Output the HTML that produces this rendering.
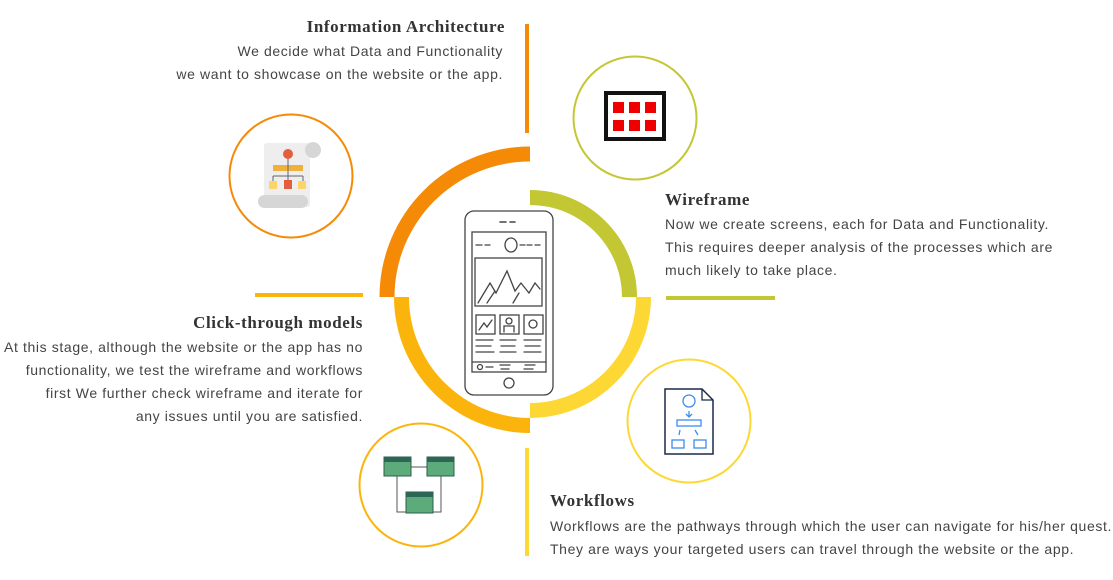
<!DOCTYPE html>
<html><head><meta charset="utf-8"><style>
body{margin:0;width:1113px;height:580px;background:#fff;position:relative;overflow:hidden;font-family:"Liberation Sans",sans-serif;}
.t{position:absolute;font-family:"Liberation Serif",serif;font-weight:bold;font-size:17px;color:#333;white-space:nowrap;letter-spacing:0.6px}
.b{position:absolute;font-size:14px;color:#444;line-height:23px;white-space:nowrap;letter-spacing:0.62px}
.r{text-align:right}
svg{position:absolute;left:0;top:0}
</style></head><body>
<svg width="1113" height="580" viewBox="0 0 1113 580">
<rect x="525" y="24" width="4" height="109" fill="#f58a07"/>
<rect x="666" y="296" width="109" height="4" fill="#c3c733"/>
<rect x="255" y="293" width="108" height="4" fill="#fbb40c"/>
<rect x="525" y="448" width="4" height="108" fill="#fdd835"/>
<path d="M379.5 297 A150.5 150.5 0 0 1 530 146.5 L530 161.5 A135.5 135.5 0 0 0 394.5 297 Z" fill="#f58a07"/>
<path d="M530 190 A107 107 0 0 1 637 297 L622 297 A92 92 0 0 0 530 205 Z" fill="#c3c733"/>
<path d="M651 297 A121 121 0 0 1 530 418 L530 403 A106 106 0 0 0 636 297 Z" fill="#fdd835"/>
<path d="M530 433 A136 136 0 0 1 394 297 L409 297 A121 121 0 0 0 530 418 Z" fill="#fbb40c"/>
<circle cx="291" cy="176" r="61.5" fill="none" stroke="#f58a07" stroke-width="2"/>
<circle cx="635" cy="118" r="61.5" fill="none" stroke="#c3c733" stroke-width="2"/>
<circle cx="689" cy="421" r="61.5" fill="none" stroke="#fdd835" stroke-width="2"/>
<circle cx="421" cy="485" r="61.5" fill="none" stroke="#fbb40c" stroke-width="2"/>
<rect x="264" y="143" width="46" height="64" rx="3" fill="#eee"/>
<circle cx="313" cy="150" r="8" fill="#d6d6d6"/>
<rect x="258" y="195" width="50" height="13" rx="6.5" fill="#d6d6d6"/>
<circle cx="288" cy="154" r="5" fill="#e35d3e"/>
<rect x="273" y="165" width="30" height="6" fill="#efb13c"/>
<path d="M288 159v24M273 176h30M273 176v5M303 176v5" stroke="#666" stroke-width="1" fill="none"/>
<rect x="269" y="181" width="8" height="8" fill="#fbd46a"/>
<rect x="284" y="180" width="8" height="9" fill="#e35d3e"/>
<rect x="298" y="181" width="8" height="8" fill="#fbd46a"/>
<rect x="606" y="93" width="58" height="46" fill="#fff" stroke="#111" stroke-width="4"/>
<g fill="#e00">
<rect x="613" y="102" width="11" height="11"/><rect x="629" y="102" width="11" height="11"/><rect x="645" y="102" width="11" height="11"/>
<rect x="613" y="120" width="11" height="11"/><rect x="629" y="120" width="11" height="11"/><rect x="645" y="120" width="11" height="11"/>
</g>
<path d="M665 389h37l11 11v54h-48z" fill="#fff" stroke="#1a2a4a" stroke-width="1.5"/>
<path d="M702 389v11h11" fill="none" stroke="#1a2a4a" stroke-width="1.3"/>
<g fill="none" stroke="#3b8cf0" stroke-width="1.3">
<circle cx="689" cy="401" r="6"/>
<rect x="677" y="420" width="24" height="6"/>
<rect x="672" y="440" width="12" height="8"/><rect x="694" y="440" width="12" height="8"/>
<path d="M689 411v6M686 414l3 3 3-3M680 430l-1 5M695 430l3 5"/>
</g>
<g stroke="#555" stroke-width="1" fill="none"><path d="M411 467h16M397 476v36h9M441 476v36h-8"/></g>
<rect x="384" y="457" width="27" height="19" fill="#5dab7a" stroke="#2d5f4a"/><rect x="384" y="457" width="27" height="5" fill="#2b6656"/>
<rect x="427" y="457" width="27" height="19" fill="#5dab7a" stroke="#2d5f4a"/><rect x="427" y="457" width="27" height="5" fill="#2b6656"/>
<rect x="406" y="492" width="27" height="21" fill="#5dab7a" stroke="#2d5f4a"/><rect x="406" y="492" width="27" height="5" fill="#2b6656"/>
<g fill="none" stroke="#444" stroke-width="1.3" stroke-linecap="round">
<rect x="465" y="211" width="88" height="184" rx="9"/>
<rect x="472" y="232" width="74" height="140"/>
<path d="M500 222h6M510 222h5" stroke-width="1.5"/>
<circle cx="509" cy="383" r="5"/>
<path d="M476 245h6M485 245h5M520 245h5M527 245h5M535 245h5"/>
<ellipse cx="511" cy="245" rx="6" ry="7"/>
<rect x="475" y="258" width="67" height="48"/>
<path d="M478 303l12-20 6 10 11-22 8 20 6-8 8 10 6-10 5 6M487 303l8-12M513 303l6-10"/>
<rect x="476" y="315" width="19" height="19"/><rect x="500" y="315" width="19" height="19"/><rect x="524" y="315" width="19" height="19"/>
<path d="M479 330l5-7 3 4 5-7"/><circle cx="509" cy="321" r="3"/><path d="M504 332v-6h10v6"/><circle cx="533" cy="324" r="4"/>
<path d="M476 340h17M476 346h15M476 352h18M500 340h16M501 346h14M500 352h16M524 340h17M525 346h15M524 352h17"/>
<path d="M472 362h74"/><circle cx="480" cy="367" r="2.5"/><path d="M486 367h7M500 365h10M501 369h8M525 365h10M524 369h9"/>
</g>
</svg>
<div class="t" style="right:608px;top:17px">Information Architecture</div>
<div class="b r" style="right:610px;top:40px">We decide what Data and Functionality<br>we want to showcase on the website or the app.</div>
<div class="t" style="left:665px;top:190px">Wireframe</div>
<div class="b" style="left:665px;top:213px">Now we create screens, each for Data and Functionality.<br>This requires deeper analysis of the processes which are<br>much likely to take place.</div>
<div class="t" style="right:750px;top:313px">Click-through models</div>
<div class="b r" style="right:750px;top:336px">At this stage, although the website or the app has no<br>functionality, we test the wireframe and workflows<br>first We further check wireframe and iterate for<br>any issues until you are satisfied.</div>
<div class="t" style="left:550px;top:491px">Workflows</div>
<div class="b" style="left:550px;top:515px">Workflows are the pathways through which the user can navigate for his/her quest.<br>They are ways your targeted users can travel through the website or the app.</div>
</body></html>
